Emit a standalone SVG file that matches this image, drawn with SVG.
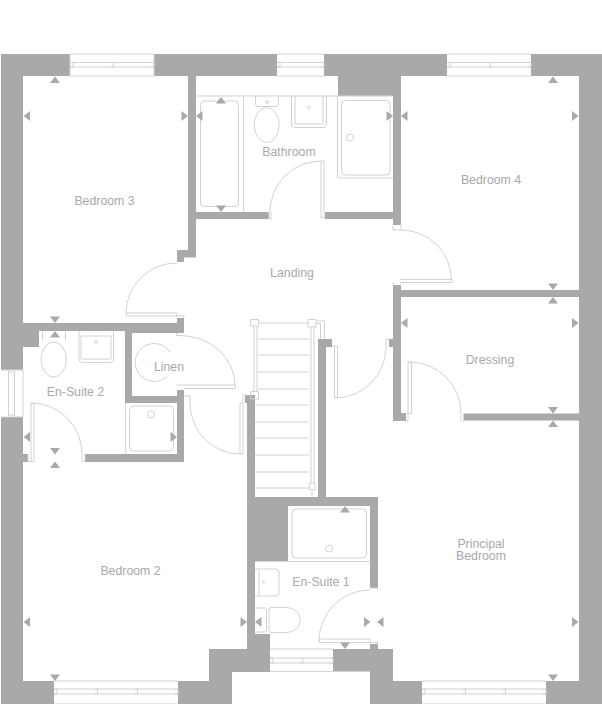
<svg xmlns="http://www.w3.org/2000/svg" width="602" height="704" viewBox="0 0 602 704">
<style>
.w{fill:#a9a9a8;stroke:none}
.l{fill:none;stroke:#d2d2d1;stroke-width:1}
.x{font-family:"Liberation Sans",Arial,sans-serif;font-size:12.300px;fill:#a9a9a8;text-anchor:middle}
</style>
<defs>
<path id="u" class="w" d="M0 0L5 6.500H-5Z"/>
<path id="d" class="w" d="M0 0L5 -6.500H-5Z"/>
<path id="lf" class="w" d="M0 0L6.500 -5V5Z"/>
<path id="rt" class="w" d="M0 0L-6.500 -5V5Z"/>
</defs>
<rect width="602" height="704" fill="#fff"/>
<g id="walls">
<path class="w" d="M1 54H70V76H23V370H1Z"/>
<path class="w" d="M23 323H177V318H184V333H132V396H177V390H184V462H85V454H177V403H125V331H39V347H23Z"/>
<path class="w" d="M1 417H23V454H28V462H23V681H54V704H1Z"/>
<path class="w" d="M154 54H277V76H196V212H269V219H196V257.500H184V262H177V250H188V76H154Z"/>
<path class="w" d="M324 54H447V76H401V219H325V212H393V96H338V76H324Z"/>
<path class="w" d="M393 219H401V225H393Z"/>
<path class="w" d="M531 54H602V704H546V681H579V76H531Z"/>
<path class="w" d="M393 285H401V290H579V297H401V413H406V421H393V347H389V339H393Z"/>
<path class="w" d="M463.500 413.500H579V420.500H463.500Z"/>
<path class="w" d="M318 339H332V347H326V497H378V588H370V506H288V561.500H255V634H270V672H232V704H178V681H209V649H247V403H245V395H255V497H318Z"/>
<path class="w" d="M333 649H370V644H378V649H393V681H422V704H370V671.500H333Z"/>
</g>
<g id="doors">
<path class="l" d="M270 212A51 51 0 0 1 321 161V218H324V161H321M269 212V219H271V212"/>
<path class="l" d="M401 230A50.500 50 0 0 1 451.500 280M400 279.500H452V282.500H400M393 225.500V230H401V225.500M393 285V282.500"/>
<path class="l" d="M386 347A51 51 0 0 1 335 398M334.500 346V398H337.500V346H332M386 347V339H389"/>
<path class="l" d="M177 263A51 50 0 0 0 126 313M126 313H177V316H126V313M177 316H184V318"/>
<path class="l" d="M180 335.500A55 50 0 0 1 235 385M176.500 385H235.500V388.500H184M176.500 335.500H180M176.500 333V335.500"/>
<path class="l" d="M190 403A50 51 0 0 0 240 454M240 403H243V454H240ZM184 396H190V403M243 403V395H247"/>
<path class="l" d="M31 403A51 51 0 0 1 82 454M31 403H34V461.500H28V454M31 403V461.500M82 454V461.500H85V454"/>
<path class="l" d="M409 362A52 51 0 0 1 461 413M408 362V413M408 362H411.500V413.500H406M406 421H408V413M461 413V421H463.500"/>
<path class="l" d="M370 590A51 51 0 0 0 319 641M319 639H370M319 642.500H370M319 639V642.500M370 639V642.500M370 642.500H378V644M370 588H378V590"/>
</g>
<g id="windows">
<path class="l" d="M70 54H154M70 76H154M70 54V76M154 54V76M70 62.500H154M70 67H154"/>
<path class="l" d="M70 62.500H73V67H70M111 62.500H113.500V67H111M151 62.500H154V67H151"/>
<path class="l" d="M277 54H324M277 76H324M277 62.500H324M277 67H324M277 62.500H280V67H277M321 62.500H324V67H321"/>
<path class="l" d="M447 54H531M447 76H531M447 62.500H531M447 67H531M447 62.500H450V67H447M488 62.500H490.500V67H488M528 62.500H531V67H528"/>
<path class="l" d="M1 370H23V417H1M8.500 371V416M14.500 371V416M8.500 372H14.500M8.500 415H14.500"/>
<path class="l" d="M54 681H178M54 704H178M54 689H178M54 694H178M54 689H57V694H54M95 689H97.500V694H95M135 689H137.500V694H135M175 689H178V694H175"/>
<path class="l" d="M422 681H546M422 704H546M422 689H546M422 694H546M422 689H425V694H422M463 689H465.500V694H463M503 689H505.500V694H503M543 689H546V694H543"/>
<path class="l" d="M270 649H333M270 671.500H333M270 658H333M270 663H333M270 658H273V663H270M300 658H303V663H300M330 658H333V663H330"/>
</g>
<g id="stairs">
<path class="l" d="M258 323H309M258 339H309M258 355H309M258 372H309M258 389H309M255 405H309M255 422H309M255 438H309M255 455H309M255 472H309M255 488H309"/>
<path class="l" d="M254 326V391M257 326V391M250.500 319.500H258.500V326H250.500ZM250.500 391.500H258.500V399H250.500ZM311 327V483M314 327V483M308 319.500H316V327H308ZM309.500 483H315V489.500H309.500ZM312 489.500V496M316 321H324.500V339M316 323.500H320.500V339"/>
</g>
<g id="fixtures">
<path class="l" d="M196 96H393"/>
<path class="l" d="M243.500 96V212"/>
<rect class="l" x="200.500" y="101" width="38" height="105.500" rx="3.500"/>
<path class="l" d="M255.500 96V104Q255.500 106.500 258 106.500H276Q278.500 106.500 278.500 104V96"/>
<ellipse class="l" cx="266.700" cy="125" rx="12.500" ry="17.500"/>
<circle class="l" cx="267" cy="102" r="1.500"/>
<path class="l" d="M291.500 96V124Q291.500 127.500 295 127.500H323Q326.500 127.500 326.500 124V96M295 96V124H323V96"/>
<circle class="l" cx="309" cy="107.500" r="1.500"/>
<path class="l" d="M337.500 96V178H393"/>
<rect class="l" x="341.500" y="100.500" width="48.500" height="74.500" rx="4"/>
<circle class="l" cx="350" cy="137.500" r="3.500"/>
<path class="l" d="M42.500 331V341M65.500 331V341"/>
<ellipse class="l" cx="53.700" cy="359.500" rx="12.700" ry="17.500"/>
<path class="l" d="M79 331V359Q79 362.500 82.500 362.500H110Q113.500 362.500 113.500 359V331M81 336V359H111V336H81"/>
<circle class="l" cx="96" cy="342" r="1.500"/>
<path class="l" d="M170 352A19 19 0 1 0 167 376.500"/>
<path class="l" d="M125.700 403V454"/>
<rect class="l" x="129.500" y="406" width="44" height="45" rx="4"/>
<circle class="l" cx="151" cy="414.500" r="3.500"/>
<path class="l" d="M288 561.500H370"/>
<rect class="l" x="292" y="509" width="74.500" height="49" rx="4"/>
<circle class="l" cx="329" cy="548.500" r="3.500"/>
<path class="l" d="M255 569H276Q279 569 279 572V593Q279 596 276 596H255M259 569V596"/>
<circle class="l" cx="263.500" cy="582" r="1"/>
<path class="l" d="M255 608H265Q266.500 608 266.500 610V630Q266.500 632 265 632H255"/>
<path class="l" d="M269 609Q269 607.500 272 607.500H285C295 607.500 300 613 300 620C300 627 295 632.500 285 632.500H272Q269 632.500 269 631Z"/>
</g>
<g id="arrows">
<use href="#u" x="55" y="76.500"/>
<use href="#lf" x="23.500" y="116"/>
<use href="#rt" x="188" y="116"/>
<use href="#lf" x="196" y="116"/>
<use href="#u" x="221" y="97"/>
<use href="#d" x="221" y="212"/>
<use href="#rt" x="393" y="116"/>
<use href="#lf" x="401" y="116"/>
<use href="#u" x="553" y="76.500"/>
<use href="#rt" x="578.500" y="116"/>
<use href="#d" x="553" y="290"/>
<use href="#u" x="553" y="297"/>
<use href="#lf" x="401" y="323"/>
<use href="#rt" x="578.500" y="323"/>
<use href="#d" x="553" y="413.500"/>
<use href="#u" x="553" y="420.500"/>
<use href="#d" x="55" y="323"/>
<use href="#u" x="55" y="331"/>
<use href="#rt" x="177" y="437"/>
<use href="#lf" x="23.500" y="437"/>
<use href="#d" x="55" y="454.500"/>
<use href="#u" x="55" y="461.500"/>
<use href="#lf" x="23.500" y="622"/>
<use href="#rt" x="247" y="622"/>
<use href="#lf" x="255" y="622"/>
<use href="#d" x="55" y="681"/>
<use href="#u" x="345" y="506"/>
<use href="#d" x="345" y="649"/>
<use href="#rt" x="370.500" y="622"/>
<use href="#lf" x="377" y="622"/>
<use href="#rt" x="578.500" y="622"/>
<use href="#d" x="553" y="681"/>
</g>
<g id="room-bedroom-3"><text class="x" x="104.500" y="205">Bedroom 3</text></g>
<g id="room-bathroom"><text class="x" x="289" y="156">Bathroom</text></g>
<g id="room-bedroom-4"><text class="x" x="491" y="184">Bedroom 4</text></g>
<g id="room-landing"><text class="x" x="292" y="277">Landing</text></g>
<g id="room-linen"><text class="x" x="169" y="371">Linen</text></g>
<g id="room-en-suite-2"><text class="x" x="75.500" y="396">En-Suite 2</text></g>
<g id="room-dressing"><text class="x" x="490" y="364">Dressing</text></g>
<g id="room-bedroom-2"><text class="x" x="130.500" y="575">Bedroom 2</text></g>
<g id="room-en-suite-1"><text class="x" x="321" y="586">En-Suite 1</text></g>
<g id="room-principal"><text class="x" x="481" y="548">Principal<tspan x="481" dy="12">Bedroom</tspan></text></g>
</svg>
